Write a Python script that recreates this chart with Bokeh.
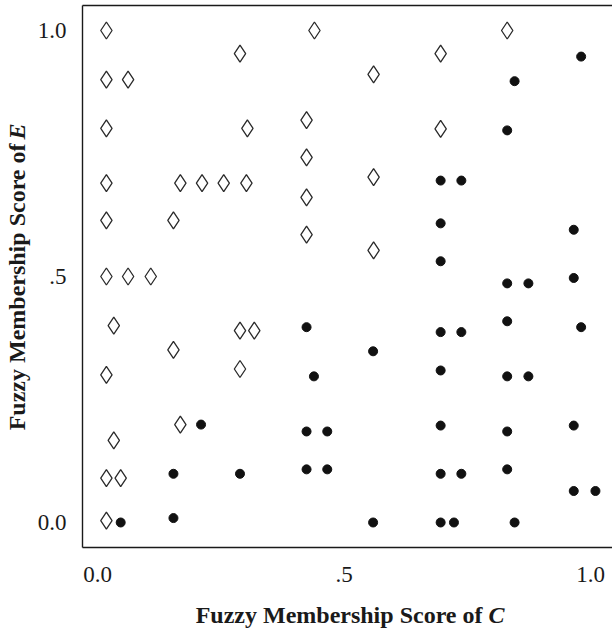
import math
from bokeh.plotting import figure
from bokeh.models import Range1d, FixedTicker, LinearAxis, Label
from bokeh.embed import file_html
from bokeh.resources import INLINE

# Open diamonds (x = fuzzy score of C, y = fuzzy score of E)
diamond_x = [0.018, 0.018, 0.062, 0.018, 0.018, 0.168, 0.212, 0.256, 0.302,
             0.018, 0.154, 0.018, 0.062, 0.108, 0.033, 0.154, 0.018, 0.168,
             0.033, 0.018, 0.047, 0.018,
             0.440, 0.289, 0.560, 0.424, 0.304, 0.424, 0.560, 0.424, 0.424,
             0.560, 0.289, 0.318, 0.289, 0.831, 0.696, 0.696]
diamond_y = [1.000, 0.900, 0.900, 0.801, 0.690, 0.690, 0.690, 0.690, 0.690,
             0.614, 0.614, 0.500, 0.500, 0.500, 0.400, 0.351, 0.300, 0.199,
             0.167, 0.090, 0.090, 0.004,
             1.000, 0.953, 0.911, 0.818, 0.801, 0.742, 0.702, 0.661, 0.585,
             0.553, 0.390, 0.390, 0.312, 1.000, 0.953, 0.800]

# Filled dots
dot_x = [0.047, 0.154, 0.154, 0.210, 0.289,
         0.424, 0.439, 0.424, 0.466, 0.424, 0.466,
         0.559, 0.559,
         0.696, 0.738, 0.696, 0.696, 0.696, 0.738, 0.696, 0.696, 0.696, 0.738, 0.696, 0.723,
         0.846, 0.831, 0.831, 0.874, 0.831, 0.831, 0.874, 0.831, 0.831, 0.846,
         0.981, 0.966, 0.966, 0.981, 0.966, 0.966, 1.010]
dot_y = [0.000, 0.009, 0.099, 0.199, 0.099,
         0.397, 0.297, 0.185, 0.185, 0.108, 0.108,
         0.348, 0.000,
         0.695, 0.695, 0.608, 0.531, 0.387, 0.387, 0.309, 0.197, 0.099, 0.099, 0.000, 0.000,
         0.897, 0.797, 0.486, 0.486, 0.409, 0.297, 0.297, 0.185, 0.108, 0.000,
         0.947, 0.595, 0.497, 0.397, 0.197, 0.064, 0.064]

tick_values = [0.0, 0.5, 1.0]
tick_labels = ["0.0", ".5", "1.0"]
x_title = "Fuzzy Membership Score of"
x_title_var = "C"
y_title = "Fuzzy Membership Score of"
y_title_var = "E"

SERIF = "Liberation Serif"
INK = "#1a1a1a"

# plot box edges (data units) and the visible window around it
BOX_LEFT, BOX_RIGHT = -0.0304, 1.0446
BOX_BOTTOM, BOX_TOP = -0.0508, 1.0518

p = figure(width=612, height=629, output_backend="svg", toolbar_location=None,
           x_range=Range1d(-0.1968, 1.0446), y_range=Range1d(-0.2175, 1.0610),
           x_axis_location=None, y_axis_location=None,
           min_border=0)
p.outline_line_color = None
p.xgrid.visible = False
p.ygrid.visible = False
p.background_fill_color = "white"
p.border_fill_color = "white"

ticks = FixedTicker(ticks=tick_values)
overrides = {v: s for v, s in zip(tick_values, tick_labels)}


def style_axis(ax, standoff):
    ax.major_tick_line_color = None
    ax.minor_tick_line_color = None
    ax.major_tick_out = 0
    ax.major_tick_in = 0
    ax.axis_line_color = INK
    ax.axis_line_width = 1.4
    ax.major_label_text_font = SERIF
    ax.major_label_text_font_size = "23px"
    ax.major_label_text_color = INK
    ax.major_label_standoff = standoff


xa = LinearAxis(ticker=ticks, major_label_overrides=overrides,
                fixed_location=BOX_BOTTOM, bounds=(BOX_LEFT, BOX_RIGHT))
ya = LinearAxis(ticker=ticks, major_label_overrides=overrides,
                fixed_location=BOX_LEFT, bounds=(BOX_BOTTOM, BOX_TOP))
style_axis(xa, 20)
style_axis(ya, 16)
p.add_layout(xa, "below")
p.add_layout(ya, "left")

top = LinearAxis(ticker=FixedTicker(ticks=[]), fixed_location=BOX_TOP,
                 bounds=(BOX_LEFT, BOX_RIGHT))
style_axis(top, 0)
p.add_layout(top, "above")

p.scatter(diamond_x, diamond_y, marker="diamond", size=17,
          fill_color=None, line_color="#2a2a2a", line_width=1.3)
p.scatter(dot_x, dot_y, marker="circle", size=9,
          fill_color="#111111", line_color="#111111")

common = dict(x_units="screen", y_units="screen", text_font=SERIF,
              text_font_size="24px", text_color=INK, text_baseline="middle")
p.add_layout(Label(x=482, y=15, text=x_title, text_font_style="bold",
                   text_align="right", **common))
p.add_layout(Label(x=488, y=15, text=x_title_var, text_font_style="bold italic",
                   text_align="left", **common))
p.add_layout(Label(x=16, y=486, text=y_title, text_font_style="bold",
                   angle=math.pi / 2, text_align="right", **common))
p.add_layout(Label(x=16, y=490, text=y_title_var, text_font_style="bold italic",
                   angle=math.pi / 2, text_align="left", **common))

open("out.html", "w").write(file_html(p, INLINE))
